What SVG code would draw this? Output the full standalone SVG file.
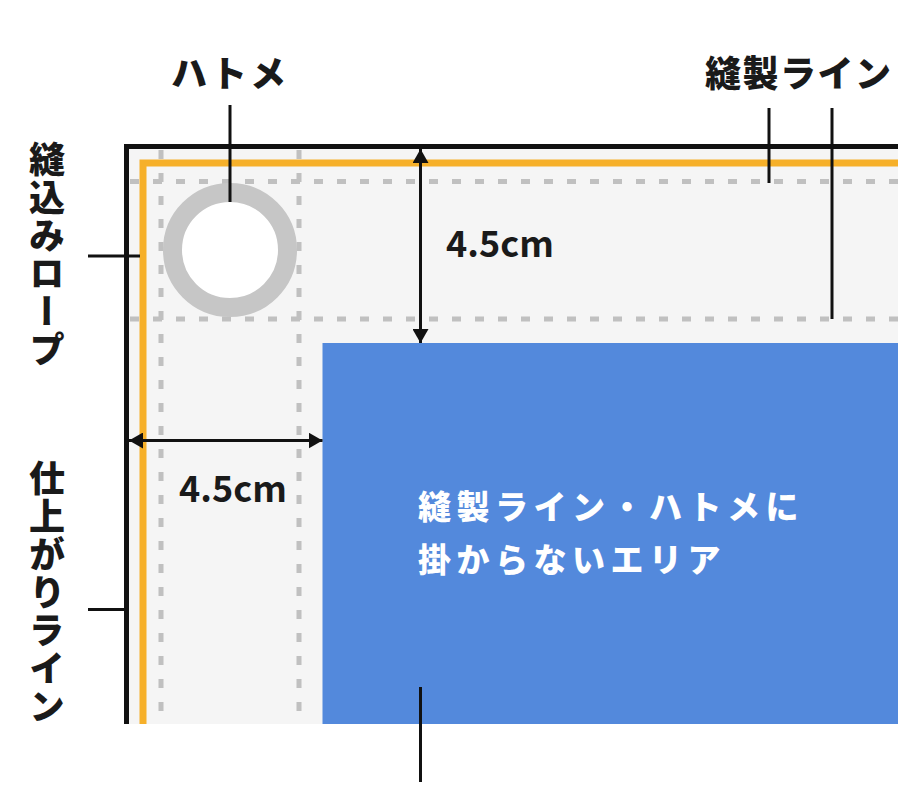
<svg xmlns="http://www.w3.org/2000/svg" width="898" height="808" viewBox="0 0 898 808">
<style>
.lbl{font-family:"Noto Sans CJK JP","Noto Sans",sans-serif;font-weight:900;font-size:36px;fill:#1a1a1a;letter-spacing:3px}
.tight{letter-spacing:1.5px}
.vert{writing-mode:vertical-rl;text-orientation:mixed;letter-spacing:2px}
.dim{font-family:"Noto Sans CJK JP","Noto Sans",sans-serif;font-weight:700;font-size:36px;fill:#1a1a1a}
.area{font-family:"Noto Sans CJK JP","Noto Sans",sans-serif;font-weight:900;font-size:33px;fill:#ffffff;letter-spacing:5.5px}
.lead{stroke:#111;stroke-width:3;fill:none}
.dash{stroke:#c0c0c0;stroke-width:5;stroke-dasharray:9 14;fill:none}
</style>
<defs>
<marker id="ah" viewBox="0 0 14 16" refX="14" refY="8" markerWidth="14" markerHeight="16" markerUnits="userSpaceOnUse" orient="auto-start-reverse">
<path d="M0,0 L14,8 L0,16 Z" fill="#111"/>
</marker>
</defs>
<rect width="898" height="808" fill="#ffffff"/>
<g id="sheet">
<rect x="127" y="147" width="771" height="577" fill="#f5f5f5"/>
</g>
<g id="seam-lines">
<line class="dash" x1="161" y1="150" x2="161" y2="724"/>
<line class="dash" x1="299" y1="150" x2="299" y2="724"/>
<line class="dash" x1="130" y1="181.5" x2="898" y2="181.5"/>
<line class="dash" x1="130" y1="319" x2="898" y2="319"/>
</g>
<g id="rope">
<path d="M143,724 V163 H898" fill="none" stroke="#f6b02a" stroke-width="7"/>
</g>
<g id="finish-line">
<path d="M126.5,724 V146.5 H898" fill="none" stroke="#111" stroke-width="5"/>
</g>
<g id="grommet">
<circle cx="230" cy="250" r="57.5" fill="#ffffff" stroke="#c6c6c6" stroke-width="19"/>
</g>
<g id="safe-area">
<rect x="322.5" y="343" width="575.5" height="381" fill="#5389dc"/>
<text class="area" x="418" y="519">縫製ライン・ハトメに</text>
<text class="area" x="418" y="572">掛からないエリア</text>
</g>
<g id="connectors">
<line class="lead" x1="230" y1="105" x2="230" y2="202"/>
<line class="lead" x1="769" y1="108" x2="769" y2="183"/>
<line class="lead" x1="832" y1="108" x2="832" y2="319"/>
<line class="lead" x1="88" y1="256" x2="140" y2="256"/>
<line class="lead" x1="88" y1="609.5" x2="127" y2="609.5"/>
<line class="lead" x1="420.5" y1="687" x2="420.5" y2="782"/>
<line class="lead" x1="420.5" y1="149" x2="420.5" y2="343" marker-start="url(#ah)" marker-end="url(#ah)"/>
<line class="lead" x1="129" y1="440.5" x2="322.5" y2="440.5" marker-start="url(#ah)" marker-end="url(#ah)"/>
</g>
<g id="labels">
<text class="lbl" x="171" y="87">ハトメ</text>
<text class="lbl tight" x="705" y="87">縫製ライン</text>
<text class="lbl vert" x="47" y="141">縫込みロープ</text>
<text class="lbl vert" x="47" y="460">仕上がりライン</text>
<text class="dim" x="446" y="257">4.5cm</text>
<text class="dim" x="179" y="502">4.5cm</text>
</g>
</svg>
